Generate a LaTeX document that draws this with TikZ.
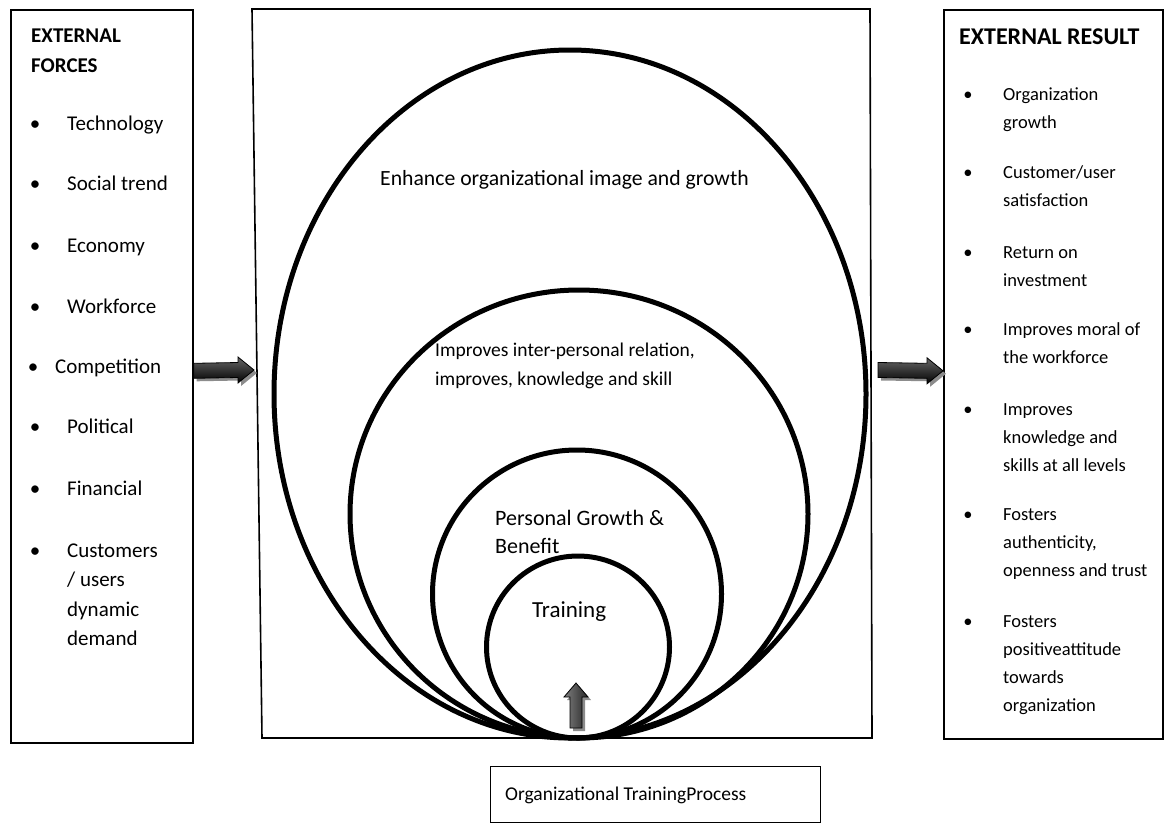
\documentclass[tikz,border=0pt]{standalone}
\usepackage{fontspec}
\setmainfont{Carlito}
\usetikzlibrary{shapes.geometric,calc}
\newcommand\szA{\fontsize{21}{29.5}\selectfont}
\newcommand\szB{\fontsize{18.5}{28}\selectfont}
\newcommand\szC{\fontsize{19.5}{29}\selectfont}
\newcommand\szD{\fontsize{19.5}{24}\selectfont}
\newcommand\szE{\fontsize{22}{28}\selectfont}
\newcommand\szF{\fontsize{23}{28}\selectfont}
\newcommand\szG{\fontsize{21.7}{28}\selectfont}
\newcommand\szH{\fontsize{21}{30}\selectfont\bfseries}
\newcommand\szR{\fontsize{24}{30}\selectfont\bfseries}
\newcommand\harrowpath[2]{($(#1)+(0,-7.5)$) -- ($(#2)+(-16,-7.5)$) -- ($(#2)+(-16,-13)$) -- (#2) -- ($(#2)+(-16,13)$) -- ($(#2)+(-16,7.5)$) -- ($(#1)+(0,7.5)$) -- cycle}
\newcommand\varrowpath[2]{($(#1)+(-6,0)$) -- ($(#2)+(-6,14)$) -- ($(#2)+(-12,14)$) -- (#2) -- ($(#2)+(12,14)$) -- ($(#2)+(6,14)$) -- ($(#1)+(6,0)$) -- cycle}
\begin{document}
\begin{tikzpicture}[x=1pt,y=-1pt,
  frame/.style={draw=black,line width=1.6pt},
  boxnode/.style={frame,rectangle,anchor=north west,inner sep=0pt},
  ring/.style={ellipse,draw=black,line width=5pt,inner sep=0pt},
  lab/.style={anchor=base west,inner sep=0pt},
  bul/.style={anchor=base,inner sep=0pt},
  shadowarrow/.style={fill=black!45,transform canvas={xshift=3pt,yshift=-3pt}},
  harrow/.style={top color=black!60,bottom color=black,draw=black,line width=0.8pt},
  varrow/.style={left color=black!50,right color=black!85,draw=black,line width=0.8pt}]
\useasboundingbox (0,0) rectangle (1172,838);
\fill[white] (0,0) rectangle (1172,838);

% outer boxes
\node[boxnode,minimum width=182,minimum height=733] (lbox) at (10,9) {};
\node[boxnode,minimum width=219,minimum height=729] (rbox) at (943,9) {};
\coordinate (m1) at (252,9);
\coordinate (m2) at (870,9);
\coordinate (m3) at (872,738);
\coordinate (m4) at (262,738);
\draw[frame] (m1) -- (m2) -- (m3) -- (m4) -- cycle;
\node[boxnode,minimum width=330,minimum height=56,line width=1.3pt] (pbox) at (490,766) {};
\node[lab] (ptext) at (505,800) {\szD Organizational TrainingProcess};

% nested ellipses
\node[ring,minimum width=592,minimum height=688] (e1) at (570,394) {};
\node[ring,minimum width=458,minimum height=448] (e2) at (579,514) {};
\node[ring,minimum width=289,minimum height=288] (e3) at (577,594) {};
\node[ring,minimum width=183,minimum height=182] (e4) at (578,647) {};

% inner labels
\node[lab] (t1) at (380,185) {\szG Enhance organizational image and growth};
\node[lab] (t2) at (435,356) {\szC\begin{tabular}[t]{@{}l@{}}Improves inter-personal relation,\\improves, knowledge and skill\end{tabular}};
\node[lab] (t3) at (495,525) {\szE\begin{tabular}[t]{@{}l@{}}Personal Growth \&\\Benefit\end{tabular}};
\node[lab] (t4) at (532,617) {\szF Training};

% left list
\node[lab] (lh) at (31,42) {\szH\begin{tabular}[t]{@{}l@{}}EXTERNAL\\FORCES\end{tabular}};
\foreach \yb/\bx/\tx/\t [count=\i] in {130/35/67/Technology,190/35/67/Social trend,252/35/67/Economy,313/35/67/Workforce,373/33/55/Competition,433/35/67/Political,495/35/67/Financial}{
  \node[bul] (lb\i) at (\bx,\yb) {\szA •};
  \node[lab] (lt\i) at (\tx,\yb) {\szA \t};
}
\node[bul] (lb8) at (35,557) {\szA •};
\node[lab] (lt8) at (67,557) {\szA\begin{tabular}[t]{@{}l@{}}Customers\\/ users\\dynamic\\demand\end{tabular}};

% right list
\node[lab] (rh) at (959,44) {\szR EXTERNAL RESULT};
\foreach \yb/\t [count=\i] in {100/{Organization\\growth},178/{Customer/user\\satisfaction},258/{Return on\\investment},335/{Improves moral of\\the workforce},415/{Improves\\knowledge and\\skills at all levels},520/{Fosters\\authenticity,\\openness and trust},627/{Fosters\\positiveattitude\\towards\\organization}}{
  \node[bul] (rb\i) at (968,\yb) {\szB •};
  \node[lab] (rt\i) at (1003,\yb) {\szB\begin{tabular}[t]{@{}l@{}}\t\end{tabular}};
}

% block arrows
\path (lbox.east) ++(0,-5.5) coordinate (a1s);
\coordinate (a1e) at (254,370);
\coordinate (a2s) at (878,370);
\path (rbox.west) ++(0,-3.5) coordinate (a2e);
\coordinate (a3s) at (576,728);
\coordinate (a3e) at (576,683);
\fill[shadowarrow] \harrowpath{a1s}{a1e};
\shadedraw[harrow] \harrowpath{a1s}{a1e};
\fill[shadowarrow] \harrowpath{a2s}{a2e};
\shadedraw[harrow] \harrowpath{a2s}{a2e};
\fill[shadowarrow] \varrowpath{a3s}{a3e};
\shadedraw[varrow] \varrowpath{a3s}{a3e};
\end{tikzpicture}
\end{document}
